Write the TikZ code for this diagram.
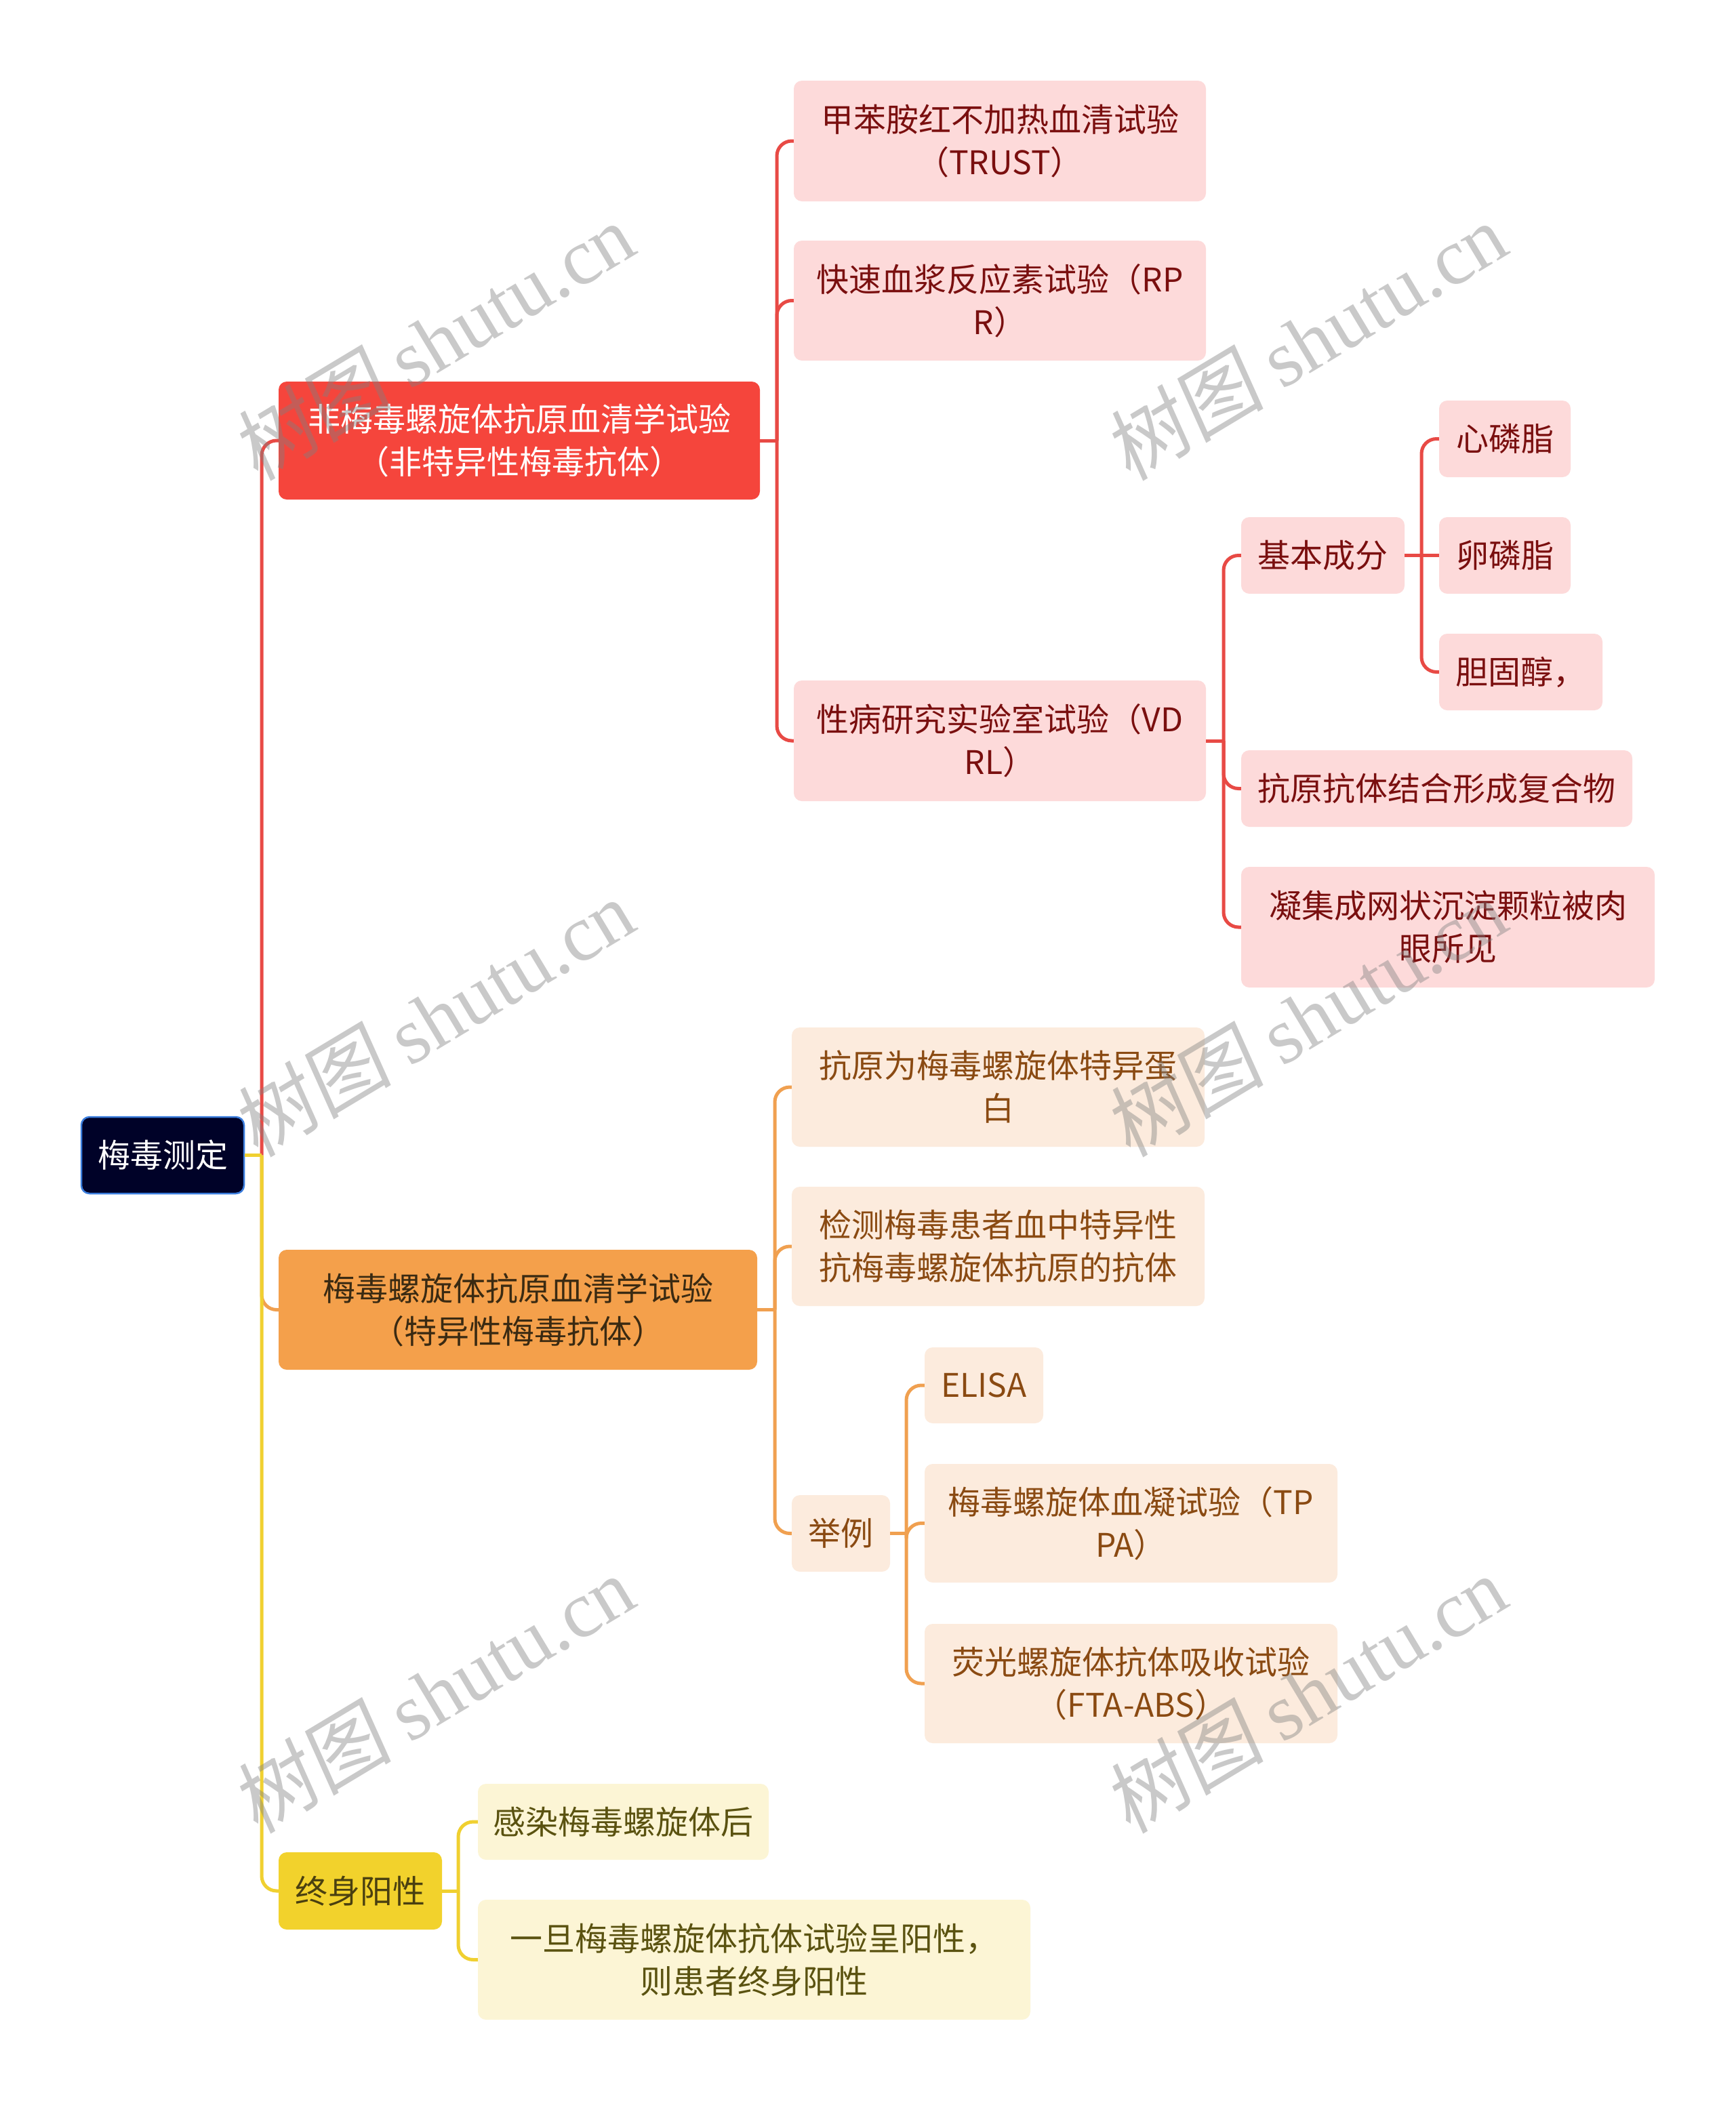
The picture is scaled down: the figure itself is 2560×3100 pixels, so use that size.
\documentclass[tikz,border=0pt]{standalone}
\usepackage{fontspec}
\setmainfont{Noto Sans CJK SC}
\newfontfamily\wmcjk[FakeSlant=0.12]{Noto Sans CJK SC}
\newfontfamily\wmlat{Liberation Serif}
\definecolor{rootfill}{HTML}{000228}
\definecolor{rootdraw}{HTML}{3B7DDD}
\definecolor{redfill}{HTML}{F5453C}
\definecolor{redlight}{HTML}{FDDADA}
\definecolor{redtext}{HTML}{7A0F0F}
\definecolor{redline}{HTML}{E84A45}
\definecolor{orfill}{HTML}{F4A04B}
\definecolor{ortextA}{HTML}{3A2A12}
\definecolor{orlight}{HTML}{FCEBDD}
\definecolor{ortext}{HTML}{8A4A12}
\definecolor{orline}{HTML}{F0A050}
\definecolor{yefill}{HTML}{F2D22C}
\definecolor{yetextA}{HTML}{4A4010}
\definecolor{yelight}{HTML}{FCF5D5}
\definecolor{yetext}{HTML}{5A5210}
\definecolor{yeline}{HTML}{F0D030}
\definecolor{wmgray}{HTML}{808080}
\tikzset{
  box/.style={rounded corners=12pt, inner sep=0pt, align=center,
    font=\fontsize{48}{63}\selectfont},
  rootbox/.style={box, fill=rootfill, draw=rootdraw, line width=2.5pt, text=white},
  l1red/.style={box, fill=redfill, text=white},
  l1or/.style={box, fill=orfill, text=ortextA},
  l1ye/.style={box, fill=yefill, text=yetextA},
  l2red/.style={box, fill=redlight, text=redtext},
  l2or/.style={box, fill=orlight, text=ortext},
  l2ye/.style={box, fill=yelight, text=yetext},
  conn/.style={line width=5pt, rounded corners=22pt},
  wm/.style={text=wmgray, text opacity=0.42, rotate=31, inner sep=0pt,
    font=\fontsize{118}{118}\selectfont}
}
\begin{document}
\begin{tikzpicture}[x=1pt,y=-1pt]
\fill[white] (0,0) rectangle (2560,3100);
\useasboundingbox (0,0) rectangle (2560,3100);

% root
\node[rootbox, minimum width=240pt, minimum height=113pt] (root) at (240,1704.5) {梅毒测定};

% level 1
\node[l1red, minimum width=710pt, minimum height=174pt] (A) at (766,650) {非梅毒螺旋体抗原血清学试验\\（非特异性梅毒抗体）};
\node[l1or, minimum width=706pt, minimum height=177pt] (B) at (764,1932.5) {梅毒螺旋体抗原血清学试验\\（特异性梅毒抗体）};
\node[l1ye, minimum width=241pt, minimum height=114pt] (C) at (531.5,2790) {终身阳性};

% red branch
\node[l2red, minimum width=608pt, minimum height=178pt] (trust) at (1475,208) {甲苯胺红不加热血清试验\\（TRUST）};
\node[l2red, minimum width=608pt, minimum height=177pt] (rpr) at (1475,443.5) {快速血浆反应素试验（RP\\R）};
\node[l2red, minimum width=608pt, minimum height=178pt] (vdrl) at (1475,1093) {性病研究实验室试验（VD\\RL）};
\node[l2red, minimum width=241pt, minimum height=113pt] (jb) at (1951.5,819.5) {基本成分};
\node[l2red, minimum width=194pt, minimum height=113pt] (xl) at (2220,647.5) {心磷脂};
\node[l2red, minimum width=194pt, minimum height=113pt] (ll) at (2220,819.5) {卵磷脂};
\node[l2red, minimum width=241pt, minimum height=113pt] (dg) at (2243.5,991.5) {胆固醇，};
\node[l2red, minimum width=577pt, minimum height=113pt] (ky) at (2119.5,1163.5) {抗原抗体结合形成复合物};
\node[l2red, minimum width=610pt, minimum height=178pt] (nj) at (2136,1368) {凝集成网状沉淀颗粒被肉\\眼所见};

% orange branch
\node[l2or, minimum width=609pt, minimum height=176pt] (ka) at (1472.5,1604) {抗原为梅毒螺旋体特异蛋\\白};
\node[l2or, minimum width=609pt, minimum height=176pt] (jc) at (1472.5,1839) {检测梅毒患者血中特异性\\抗梅毒螺旋体抗原的抗体};
\node[l2or, minimum width=145pt, minimum height=113pt] (jl) at (1240.5,2262.5) {举例};
\node[l2or, minimum width=175pt, minimum height=112pt] (elisa) at (1451.5,2044) {ELISA};
\node[l2or, minimum width=609pt, minimum height=175pt] (tppa) at (1668.5,2247.5) {梅毒螺旋体血凝试验（TP\\PA）};
\node[l2or, minimum width=609pt, minimum height=176pt] (fta) at (1668.5,2484) {荧光螺旋体抗体吸收试验\\（FTA-ABS）};

% yellow branch
\node[l2ye, minimum width=429pt, minimum height=112pt] (gr) at (919.5,2688) {感染梅毒螺旋体后};
\node[l2ye, minimum width=815pt, minimum height=177pt] (yd) at (1112.5,2891.5) {一旦梅毒螺旋体抗体试验呈阳性，\\则患者终身阳性};

% junctions
\coordinate (j0) at (386,1704.5);
\coordinate (jA) at (1146,650);
\coordinate (jV) at (1805,1093);
\coordinate (jJ) at (2097,819.5);
\coordinate (jB) at (1143,1932.5);
\coordinate (jL) at (1337,2262.5);
\coordinate (jC) at (676,2790);

% root connectors
\draw[conn, redline] (j0) |- (A.west);
\draw[conn, orline] (j0) |- (B.west);
\draw[conn, yeline] (j0) |- (C.west);
\draw[conn, yeline] (root.east) -- (j0);

% red
\draw[conn, redline] (A.east) -- (jA);
\draw[conn, redline] (jA) |- (trust.west);
\draw[conn, redline] (jA) |- (rpr.west);
\draw[conn, redline] (jA) |- (vdrl.west);
\draw[conn, redline] (vdrl.east) -- (jV);
\draw[conn, redline] (jV) |- (jb.west);
\draw[conn, redline] (jV) |- (ky.west);
\draw[conn, redline] (jV) |- (nj.west);
\draw[conn, redline] (jb.east) -- (jJ);
\draw[conn, redline] (jJ) |- (xl.west);
\draw[conn, redline] (jJ) -- (ll.west);
\draw[conn, redline] (jJ) |- (dg.west);

% orange
\draw[conn, orline] (B.east) -- (jB);
\draw[conn, orline] (jB) |- (ka.west);
\draw[conn, orline] (jB) |- (jc.west);
\draw[conn, orline] (jB) |- (jl.west);
\draw[conn, orline] (jl.east) -- (jL);
\draw[conn, orline] (jL) |- (elisa.west);
\draw[conn, orline] (jL) |- (tppa.west);
\draw[conn, orline] (jL) |- (fta.west);

% yellow
\draw[conn, yeline] (C.east) -- (jC);
\draw[conn, yeline] (jC) |- (gr.west);
\draw[conn, yeline] (jC) |- (yd.west);

% watermarks
\node[wm] (w1) at (639,503) {{\wmcjk 树图} {\wmlat shutu.cn}};
\node[wm] (w2) at (1926,503) {{\wmcjk 树图} {\wmlat shutu.cn}};
\node[wm] (w3) at (639,1501) {{\wmcjk 树图} {\wmlat shutu.cn}};
\node[wm] (w4) at (1926,1501) {{\wmcjk 树图} {\wmlat shutu.cn}};
\node[wm] (w5) at (639,2499) {{\wmcjk 树图} {\wmlat shutu.cn}};
\node[wm] (w6) at (1926,2499) {{\wmcjk 树图} {\wmlat shutu.cn}};
\end{tikzpicture}
\end{document}
